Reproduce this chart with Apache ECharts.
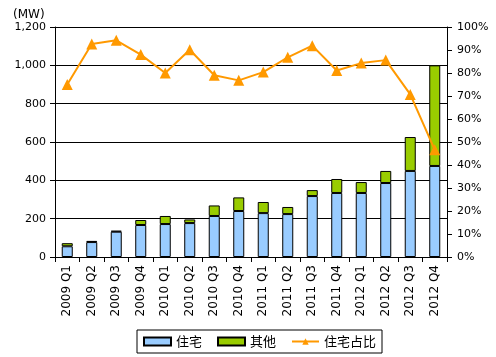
<!DOCTYPE html>
<html><head><meta charset="utf-8">
<script src="https://cdn.jsdelivr.net/npm/echarts@6/dist/echarts.min.js"></script>
<style>html,body{margin:0;padding:0;background:#fff}#c{width:496px;height:357px}</style>
</head><body><div id="c"></div>
<script>
const categories = ['2009 Q1','2009 Q2','2009 Q3','2009 Q4','2010 Q1','2010 Q2','2010 Q3','2010 Q4','2011 Q1','2011 Q2','2011 Q3','2011 Q4','2012 Q1','2012 Q2','2012 Q3','2012 Q4'];
const residential = [56, 78, 132, 167, 172, 177, 214, 240, 229, 224, 318, 334, 334, 386, 449, 475];
const other = [16, 6, 5, 26, 42, 19, 55, 71, 58, 37, 31, 73, 57, 63, 177, 525];
const residentialShare = [75, 92.6, 94.2, 88, 80, 90.1, 79, 76.8, 80.4, 86.8, 91.9, 81.1, 84.3, 85.6, 70.7, 46.6];
const leftTicks = {min: 0, max: 1200, interval: 200};
const rightTicks = {min: 0, max: 100, interval: 10};

const chart = echarts.init(document.getElementById('c'), null, {renderer: 'canvas'});
const font = 'DejaVu Sans';
chart.setOption({
  animation: false,
  backgroundColor: '#fff',
  title: {text: '(MW)', left: 8, top: 4, textStyle: {fontFamily: font, fontSize: 12, fontWeight: 'normal', color: '#000'}},
  grid: {left: 55, right: 49, top: 27, bottom: 100},
  legend: {
    left: 137, top: 330, padding: [5, 6], itemGap: 15, itemWidth: 27, itemHeight: 8,
    borderColor: '#000', borderWidth: 1,
    textStyle: {fontFamily: 'Noto Sans CJK SC', fontSize: 13, color: '#000'},
    data: [{name: '住宅', icon: 'rect'}, {name: '其他', icon: 'rect'}, {name: '住宅占比'}]
  },
  xAxis: {
    type: 'category', data: categories,
    axisLine: {lineStyle: {color: '#000', width: 1}},
    axisTick: {show: true, alignWithLabel: false, length: 5, lineStyle: {color: '#000'}},
    axisLabel: {rotate: 90, fontFamily: font, fontSize: 12, color: '#000', margin: 8}
  },
  yAxis: [{
    type: 'value', min: leftTicks.min, max: leftTicks.max, interval: leftTicks.interval,
    axisLine: {show: true, lineStyle: {color: '#000'}},
    axisTick: {show: true, length: 5, lineStyle: {color: '#000'}},
    splitLine: {lineStyle: {color: '#000', width: 1}},
    axisLabel: {fontFamily: font, fontSize: 11, color: '#000', margin: 9,
      formatter: v => v.toLocaleString('en-US')}
  }, {
    type: 'value', min: rightTicks.min, max: rightTicks.max, interval: rightTicks.interval,
    axisLine: {show: true, lineStyle: {color: '#000'}},
    axisTick: {show: true, length: 5, lineStyle: {color: '#000'}},
    splitLine: {show: false},
    axisLabel: {fontFamily: font, fontSize: 11, color: '#000', margin: 10, formatter: '{value}%'}
  }],
  series: [{
    name: '住宅', type: 'bar', stack: 'a', data: residential, barWidth: '45%',
    itemStyle: {color: '#99CCFF', borderColor: '#000', borderWidth: 1}
  }, {
    name: '其他', type: 'bar', stack: 'a', data: other, barWidth: '45%',
    itemStyle: {color: '#99CC00', borderColor: '#000', borderWidth: 1}
  }, {
    name: '住宅占比', type: 'line', yAxisIndex: 1, data: residentialShare,
    symbol: 'triangle', symbolSize: 11, z: 5,
    lineStyle: {color: '#FF9900', width: 2},
    itemStyle: {color: '#FF9900'}
  }]
});
</script></body></html>
